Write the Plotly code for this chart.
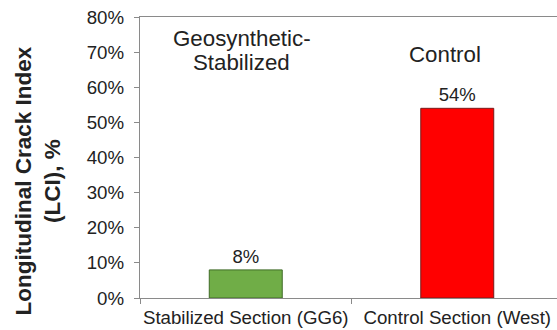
import plotly.graph_objects as go

# Longitudinal crack index for the two test sections
sections = ["Stabilized Section (GG6)", "Control Section (West)"]
lci = [0.08, 0.54]
bar_colors = ["#70AD47", "#FF0000"]
bar_outline = ["#3F6B26", "#7A1A1A"]
y_ticks = [0.0, 0.1, 0.2, 0.3, 0.4, 0.5, 0.6, 0.7, 0.8]

# Group headings: (x position, y position, text), one line each
group_lines = [
    (-0.018, 0.738, "Geosynthetic-"),
    (-0.018, 0.670, "Stabilized"),
    (0.944, 0.692, "Control"),
]

FONT = "Arial, 'Liberation Sans', sans-serif"
AXIS = "#8a8a8a"
TEXT = "#222222"

fig = go.Figure(
    go.Bar(
        x=sections,
        y=lci,
        width=0.345,
        marker=dict(color=bar_colors, line=dict(color=bar_outline, width=1)),
        text=[f"{v:.0%}" for v in lci],
        textposition="outside",
        textfont=dict(family=FONT, size=18.5, color=TEXT),
        cliponaxis=False,
    )
)

fig.update_layout(
    width=557,
    height=330,
    margin=dict(l=140, r=0, t=17, b=32),
    paper_bgcolor="white",
    plot_bgcolor="white",
    showlegend=False,
    font=dict(family=FONT, color=TEXT),
    xaxis=dict(
        type="category",
        range=[-0.5, 1.4716],
        automargin=False,
        tickangle=0,
        showline=True,
        linecolor=AXIS,
        linewidth=1.3,
        mirror=True,
        ticks="outside",
        tickson="boundaries",
        ticklen=5,
        tickcolor=AXIS,
        ticklabelstandoff=2,
        tickfont=dict(family=FONT, size=18.7, color=TEXT),
        showgrid=False,
    ),
    yaxis=dict(
        range=[0, 0.8],
        automargin=False,
        tickvals=y_ticks,
        tickformat=".0%",
        showline=True,
        linecolor=AXIS,
        linewidth=1.3,
        ticks="outside",
        ticklen=5,
        tickcolor=AXIS,
        ticklabelstandoff=6,
        tickfont=dict(family=FONT, size=18.7, color=TEXT),
        showgrid=False,
        zeroline=False,
    ),
)

for xpos, ypos, label in group_lines:
    fig.add_annotation(
        x=xpos, xref="x", y=ypos, yref="y",
        text=label, showarrow=False,
        font=dict(family=FONT, size=22.3, color=TEXT),
        align="center",
    )

# Rotated y-axis title
fig.add_annotation(
    x=0, xref="paper", xanchor="center", xshift=-103,
    y=0.5, yref="paper", yanchor="middle", yshift=-24,
    text="<b>Longitudinal Crack Index<br>(LCI), %</b>",
    textangle=-90, showarrow=False,
    font=dict(family=FONT, size=22.5, color=TEXT),
    align="center",
)

fig.write_html("out.html")
